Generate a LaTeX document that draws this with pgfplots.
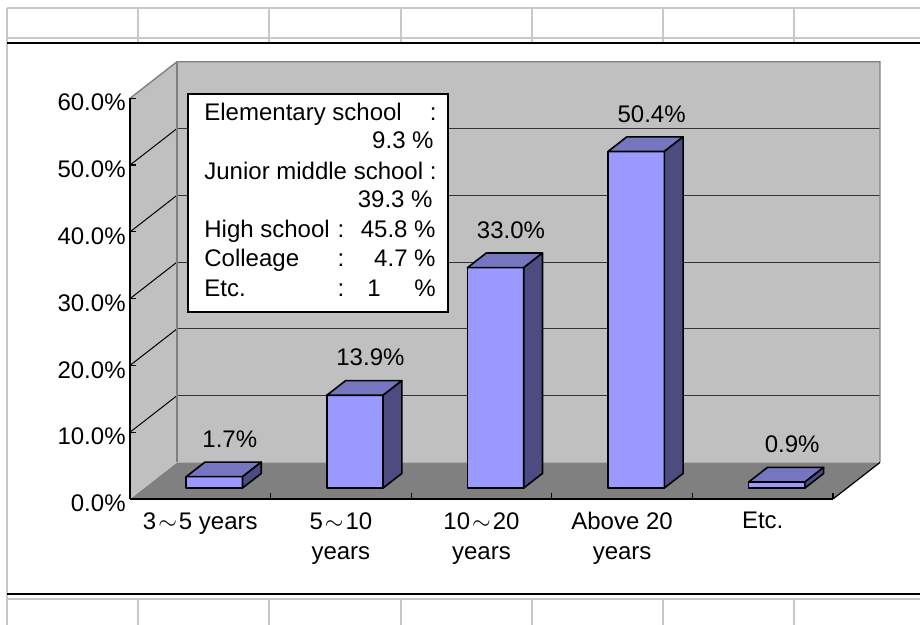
\documentclass[border=0pt]{standalone}
\usepackage{pgfplots}
\pgfplotsset{compat=1.18}
\usepackage{pgfplotstable}
\usepackage{fontspec}
\setmainfont{Liberation Sans}

\definecolor{barfront}{HTML}{9999FF}
\definecolor{bartop}{HTML}{7676C0}
\definecolor{barside}{HTML}{4C4C80}
\definecolor{wall}{HTML}{C0C0C0}
\definecolor{floorgrey}{HTML}{808080}
\definecolor{cellline}{HTML}{C8C8C8}

\pgfkeys{/pgf/number format/assume math mode=true}

% share of respondents by years of experience (%)
\pgfplotstableread{
idx value
0 1.7
1 13.9
2 33.0
3 50.4
4 0.9
}\tenure

\newcommand\chartfont{\fontsize{12}{15}\selectfont}
\newcommand\rng{\kern1pt$\sim$\kern1pt}
% depth of the 3-D box, in axis units
\def\dX{0.334}
\def\dY{5.47}

\begin{document}
\begin{tikzpicture}
% worksheet cells around the chart object
\begin{scope}[x=0.5pt,y=-0.5pt]
  \fill[white] (0,0) rectangle (920,625);
  \draw[cellline, line width=1pt] (7,8) -- (920,8) (7,38) -- (920,38) (7,599) -- (920,599);
  \draw[cellline, line width=1pt] (7,8) -- (7,625);
  \foreach \x in {138,269,401,532,663,794}
    {\draw[cellline, line width=1pt] (\x,8) -- (\x,43) (\x,599) -- (\x,625);}
  \draw[black, line width=0.9pt] (7,43) -- (920,43) (7,594) -- (920,594);
\end{scope}

\begin{axis}[
  at={(65pt,-249.5pt)}, anchor=south west,
  scale only axis, width=351.5pt, height=200.35pt,
  xmin=0, xmax=5, ymin=0, ymax=60,
  clip=false, axis on top,
  axis x line*=bottom, axis y line*=left,
  axis line style={line width=0.8pt, black},
  major tick length=3pt,
  tick style={black, line width=0.6pt},
  ytick={0,10,...,60},
  yticklabel={\pgfmathprintnumber[fixed,fixed zerofill,precision=1]{\tick}\%},
  yticklabel style={font=\chartfont, inner sep=0pt, xshift=-2pt, yshift=-2.2pt},
  xtick={1,2,3,4,5}, xticklabels={},
  extra x ticks={0.5,1.5,2.5,3.5,4.5},
  extra x tick labels={{3\rng5 years},{5\rng10\\years},{10\rng20\\years},{Above 20\\years},{Etc.}},
  extra x tick style={major tick length=0pt},
  xticklabel style={font=\chartfont, align=center, anchor=north, inner sep=0pt, yshift=-6.5pt},
]
  % floor, side wall and back wall
  \fill[floorgrey] (axis cs:0,0) -- (axis cs:\dX,\dY) -- (axis cs:{5+\dX},\dY) -- (axis cs:5,0) -- cycle;
  \fill[wall] (axis cs:0,0) -- (axis cs:\dX,\dY) -- (axis cs:\dX,{60+\dY}) -- (axis cs:0,60) -- cycle;
  \fill[wall] (axis cs:\dX,\dY) rectangle (axis cs:{5+\dX},{60+\dY});
  % gridlines on both walls
  \pgfplotsinvokeforeach{10,20,30,40,50}{
    \draw[black!80, line width=0.5pt] (axis cs:\dX,{#1+\dY}) -- (axis cs:{5+\dX},{#1+\dY});
    \draw[black, line width=0.5pt] (axis cs:0,#1) -- (axis cs:\dX,{#1+\dY});
  }
  \draw[floorgrey, line width=0.7pt] (axis cs:0,60) -- (axis cs:\dX,{60+\dY}) -- (axis cs:{5+\dX},{60+\dY}) -- (axis cs:{5+\dX},\dY);
  \draw[floorgrey, line width=0.7pt] (axis cs:\dX,{60+\dY}) -- (axis cs:\dX,\dY);
  \draw[black, line width=0.6pt] (axis cs:5,0) -- (axis cs:{5+\dX},\dY);

  % 3-D columns: front, top and side faces, plus value labels
  \pgfplotsforeachungrouped \i in {0,...,4}{
    \pgfplotstablegetelem{\i}{value}\of\tenure
    \let\val\pgfplotsretval
    \pgfmathsetmacro\xl{\i+0.3+0.3*\dX}
    \pgfmathsetmacro\xr{\xl+0.4}
    \pgfmathsetmacro\yb{0.3*\dY}
    \pgfmathsetmacro\yt{\val+\yb}
    \pgfmathsetmacro\xlb{\xl+0.4*\dX}
    \pgfmathsetmacro\xrb{\xr+0.4*\dX}
    \pgfmathsetmacro\ybb{\yb+0.4*\dY}
    \pgfmathsetmacro\ytb{\yt+0.4*\dY}
    \pgfmathsetmacro\xc{\i+0.71}
    \edef\barcmd{%
      \noexpand\addplot[fill=barfront, draw=black, line width=0.8pt, line join=round]
        coordinates {(\xl,\yb) (\xr,\yb) (\xr,\yt) (\xl,\yt)} -- cycle;
      \noexpand\addplot[fill=bartop, draw=black, line width=0.8pt, line join=round]
        coordinates {(\xl,\yt) (\xr,\yt) (\xrb,\ytb) (\xlb,\ytb)} -- cycle;
      \noexpand\addplot[fill=barside, draw=black, line width=0.8pt, line join=round]
        coordinates {(\xr,\yb) (\xrb,\ybb) (\xrb,\ytb) (\xr,\yt)} -- cycle;
      \noexpand\node[font=\noexpand\chartfont, inner sep=0pt, yshift=11.5pt]
        at (axis cs:\xc,\ytb) {\noexpand\pgfmathprintnumber[fixed,fixed zerofill,precision=1]{\val}\noexpand\%};
    }
    \barcmd
  }
\end{axis}

% text box with the schooling breakdown
\begin{scope}[x=0.5pt,y=-0.5pt, every node/.style={font=\chartfont, inner sep=0pt}]
  \draw[black, line width=0.8pt, fill=white] (188,94) rectangle (448,312);
  \node[anchor=base west] at (204,121) {Elementary school};
  \node[anchor=base east] at (437,121) {:};
  \node[anchor=base east] at (434,149) {9.3 \%};
  \node[anchor=base west] at (204,180) {Junior middle school};
  \node[anchor=base east] at (437,180) {:};
  \node[anchor=base east] at (433,208) {39.3 \%};
  \node[anchor=base west] at (204,238) {High school};
  \node[anchor=base] at (341,238) {:};
  \node[anchor=base east] at (436,238) {45.8 \%};
  \node[anchor=base west] at (204,267) {Colleage};
  \node[anchor=base] at (341,267) {:};
  \node[anchor=base east] at (436,267) {4.7 \%};
  \node[anchor=base west] at (204,297) {Etc.};
  \node[anchor=base] at (341,297) {:};
  \node[anchor=base] at (374,297) {1};
  \node[anchor=base east] at (436,297) {\%};
\end{scope}

\pgfresetboundingbox
\path[x=0.5pt,y=-0.5pt] (0,0) rectangle (920,625);
\end{tikzpicture}
\end{document}
